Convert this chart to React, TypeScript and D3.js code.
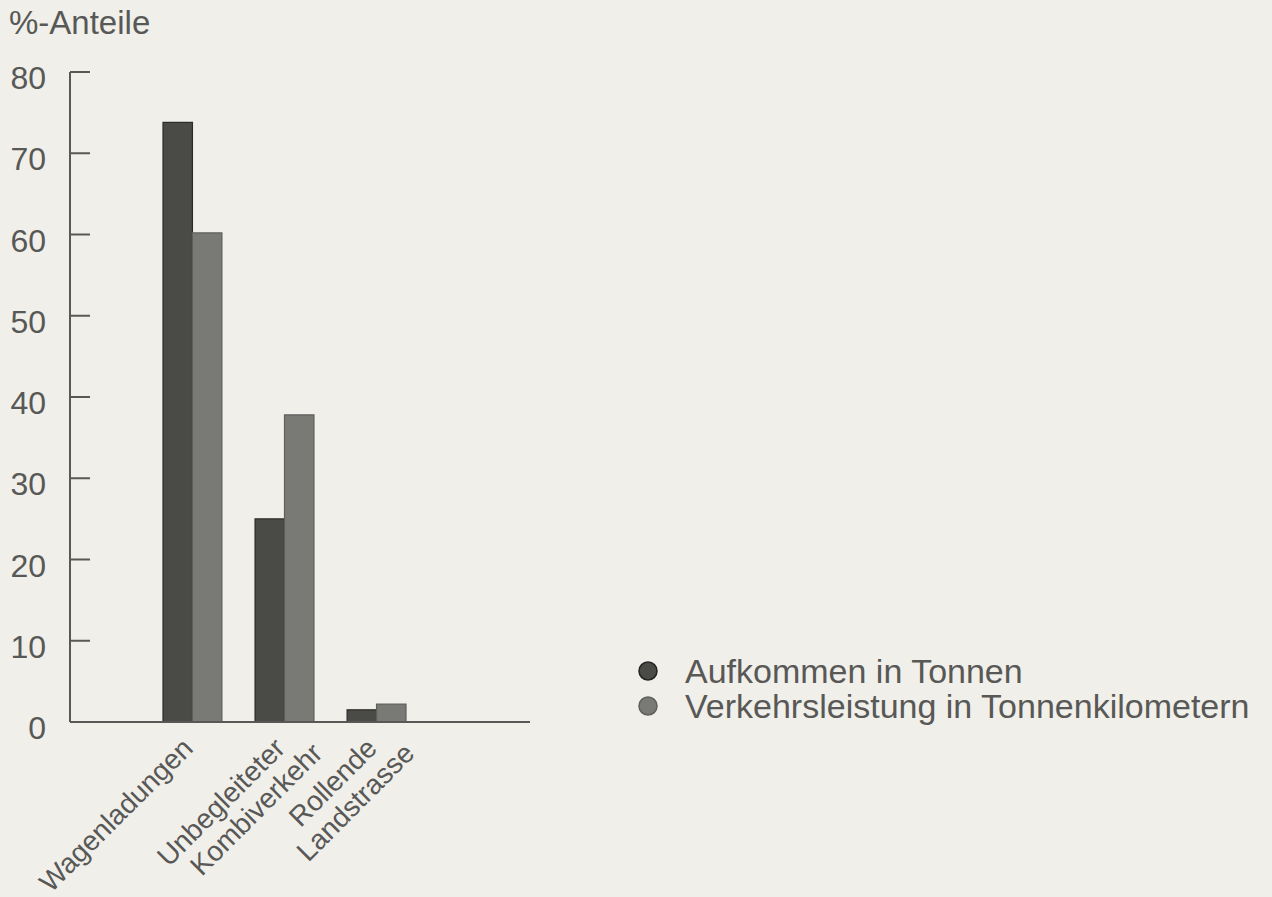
import * as d3 from "d3";
import { useEffect, useRef } from "react";

// values (percent shares)
const categories = ["Wagenladungen", "Unbegleiteter Kombiverkehr", "Rollende Landstrasse"];
const categoryLines = [["Wagenladungen"], ["Unbegleiteter", "Kombiverkehr"], ["Rollende", "Landstrasse"]];
const seriesNames = ["Aufkommen in Tonnen", "Verkehrsleistung in Tonnenkilometern"];
const aufkommen = [73.8, 25.0, 1.5];
const verkehrsleistung = [60.2, 37.8, 2.2];
const yTicks = [0, 10, 20, 30, 40, 50, 60, 70, 80];
const yLabel = "%-Anteile";

const colors = ["#4a4a47", "#797976"];
const ink = "#585856";
const font = "'Liberation Sans', Arial, sans-serif";

export default function App() {
  const svgRef = useRef<SVGSVGElement | null>(null);
  const width = 1272;
  const height = 897;

  useEffect(() => {
    const svg = d3.select(svgRef.current);
    svg.selectAll("*").remove();

    svg.append("rect").attr("width", width).attr("height", height).attr("fill", "#f0efea");

    const axisX = 70;
    const axisEnd = 530;
    const y = d3.scaleLinear().domain([0, 80]).range([722, 72]);

    const x0 = d3.scaleBand().domain(categories).range([163, 406]).paddingInner(0.36).paddingOuter(0);
    const x1 = d3.scaleBand().domain(seriesNames).range([0, x0.bandwidth()]);

    const g = svg.append("g");

    // title
    g.append("text")
      .attr("x", 9)
      .attr("y", 34)
      .attr("font-family", font)
      .attr("font-size", 33)
      .attr("fill", ink)
      .text(yLabel);

    // y axis
    g.append("line")
      .attr("x1", axisX).attr("x2", axisX)
      .attr("y1", y(0)).attr("y2", y(80))
      .attr("stroke", ink).attr("stroke-width", 2);

    const ticks = g.selectAll(".tick").data(yTicks).join("g").attr("class", "tick");
    ticks.append("line")
      .attr("x1", axisX).attr("x2", axisX + 20)
      .attr("y1", d => y(d)).attr("y2", d => y(d))
      .attr("stroke", ink).attr("stroke-width", 2);
    ticks.append("text")
      .attr("x", 46)
      .attr("y", d => y(d) + 17)
      .attr("text-anchor", "end")
      .attr("font-family", font)
      .attr("font-size", 32)
      .attr("fill", ink)
      .text(d => d);

    // bars
    const groups = g.selectAll(".grp")
      .data(categories.map((c, i) => ({ c, vals: [aufkommen[i], verkehrsleistung[i]] })))
      .join("g")
      .attr("class", "grp")
      .attr("transform", d => `translate(${x0(d.c)},0)`);

    groups.selectAll("rect")
      .data(d => d.vals.map((v, j) => ({ v, s: seriesNames[j], j })))
      .join("rect")
      .attr("x", d => x1(d.s)!)
      .attr("y", d => y(d.v))
      .attr("width", x1.bandwidth())
      .attr("height", d => y(0) - y(d.v))
      .attr("fill", d => colors[d.j])
      .attr("stroke", d => (d.j === 0 ? "#2b2b29" : "#5e5e5b"))
      .attr("stroke-width", 1.2);

    // baseline
    g.append("line")
      .attr("x1", axisX).attr("x2", axisEnd)
      .attr("y1", y(0)).attr("y2", y(0))
      .attr("stroke", ink).attr("stroke-width", 2);

    // category labels, rotated
    categories.forEach((c, i) => {
      const cx = (x0(c) ?? 0) + x0.bandwidth() / 2;
      const lab = g.append("g").attr("transform", `translate(${cx + 2},${y(0) + 28}) rotate(-45)`);
      categoryLines[i].forEach((line, k) => {
        lab.append("text")
          .attr("x", k * 23)
          .attr("y", k * 30)
          .attr("text-anchor", "end")
          .attr("font-family", font)
          .attr("font-size", 28)
          .attr("fill", ink)
          .text(line);
      });
    });

    // legend
    const legend = g.append("g").attr("transform", "translate(648,671)");
    seriesNames.forEach((s, i) => {
      legend.append("circle")
        .attr("cx", 0).attr("cy", i * 35)
        .attr("r", 9)
        .attr("fill", colors[i])
        .attr("stroke", i === 0 ? "#222" : "#5e5e5b")
        .attr("stroke-width", 1.5);
      legend.append("text")
        .attr("x", 37).attr("y", i * 35 + 12)
        .attr("font-family", font)
        .attr("font-size", 34)
        .attr("fill", ink)
        .text(s);
    });
  }, []);

  return (
    <div style={{ position: "absolute", left: 0, top: 0 }}>
      <svg ref={svgRef} width={width} height={height} style={{ display: "block" }} />
    </div>
  );
}
